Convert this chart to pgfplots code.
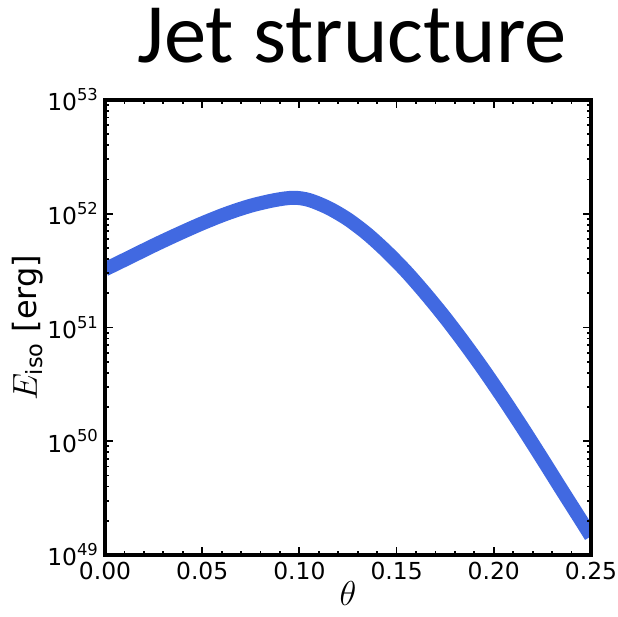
\documentclass[border=0pt]{standalone}
\usepackage{fontspec}
\setmainfont{DejaVu Sans}
\newfontfamily\titlefont{Carlito}
\usepackage{pgfplots}
\pgfplotsset{compat=1.18}
\definecolor{jetblue}{HTML}{4169E1}

% y tick label: 10 with a raised exponent, as matplotlib draws it
\newcommand{\tenp}[1]{10\raisebox{0.8ex}{\fontsize{8.2pt}{9pt}\selectfont #1}}

\begin{document}
\begin{tikzpicture}
\useasboundingbox (0,0) rectangle (309pt,308.5pt);
\node[anchor=base,inner sep=0pt] at (176pt,277pt) {\titlefont\fontsize{42.3pt}{48pt}\selectfont Jet structure};
\begin{axis}[
  at={(52.5pt,31pt)},anchor=south west,
  scale only axis,
  width=243pt,height=227.5pt,
  xmin=0,xmax=0.25,
  ymode=log,ymin=1e49,ymax=1e53,
  xtick={0,0.05,0.10,0.15,0.20,0.25},
  minor x tick num=4,
  ytick={1e49,1e50,1e51,1e52,1e53},
  yticklabels={\tenp{49},\tenp{50},\tenp{51},\tenp{52},\tenp{53}},
  xticklabel style={/pgf/number format/.cd,fixed,fixed zerofill,precision=2,assume math mode=true},
  tick label style={font=\fontsize{11.7pt}{13pt}\selectfont},
  xlabel={$\theta$},
  ylabel={$E_{\rm iso}$ [erg]},
  label style={font=\fontsize{16pt}{18pt}\selectfont},
  xlabel style={yshift=6pt},
  ylabel style={yshift=-5pt},
  axis line style={line width=1.6pt},
  major tick length=4pt,minor tick length=2pt,
  every tick/.style={black,line width=0.9pt},
  tick align=inside,
  axis on top,
]
\addplot[jetblue,line width=7pt,smooth] coordinates {
(0.000,3.24e51)(0.0125,4.12e51)(0.025,5.25e51)(0.0375,6.61e51)(0.050,8.22e51)
(0.0625,1.00e52)(0.075,1.175e52)(0.0875,1.318e52)(0.097,1.38e52)(0.105,1.318e52)
(0.115,1.122e52)(0.125,8.91e51)(0.135,6.61e51)(0.145,4.62e51)(0.155,3.09e51)
(0.165,1.97e51)(0.175,1.216e51)(0.185,7.24e50)(0.195,4.19e50)(0.205,2.355e50)
(0.215,1.294e50)(0.225,6.97e49)(0.235,3.72e49)(0.245,2.0e49)(0.250,1.46e49)
};
\end{axis}
\end{tikzpicture}
\end{document}
